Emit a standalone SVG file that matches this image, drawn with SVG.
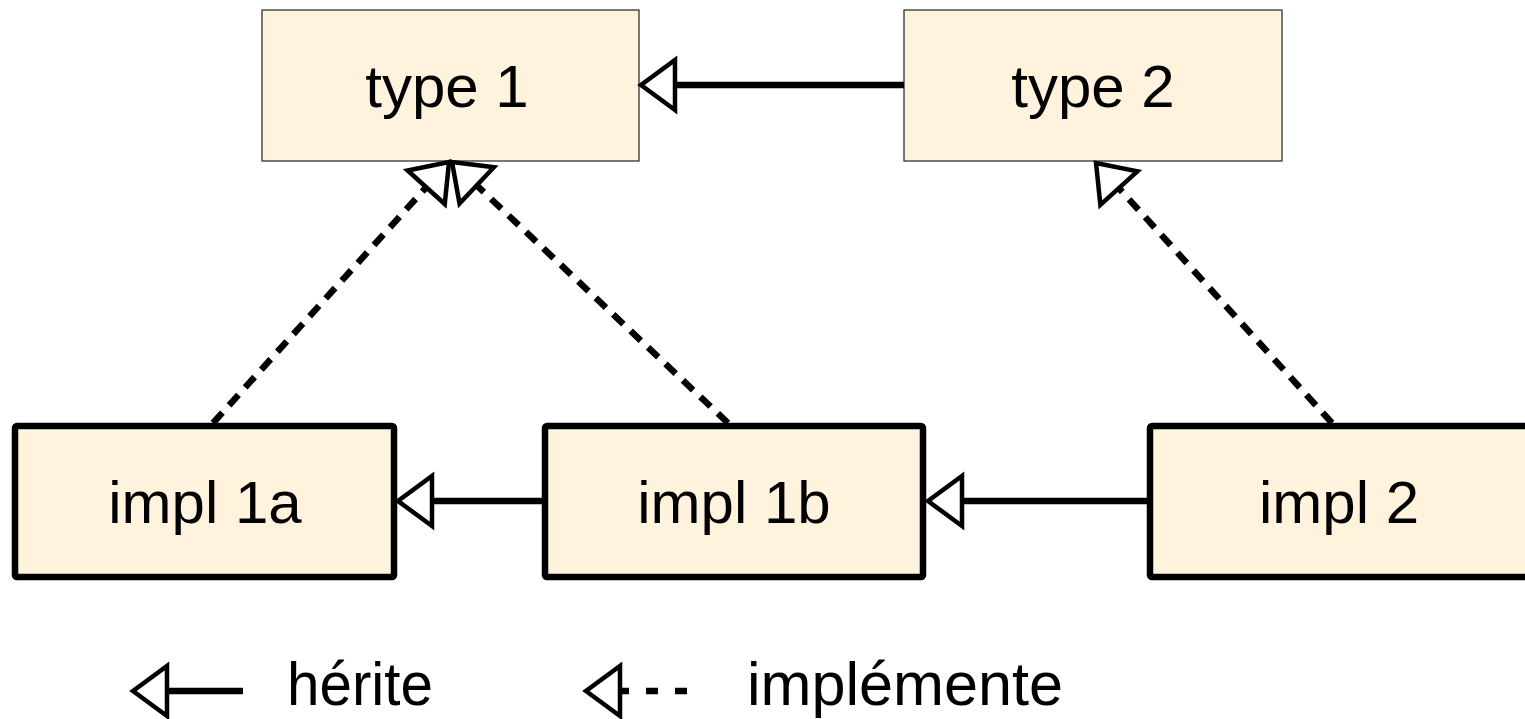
<svg xmlns="http://www.w3.org/2000/svg" width="1525" height="719" viewBox="0 0 1525 719">
<style>
.type{fill:#FFF3DD;stroke:#222;stroke-width:1.2}
.impl{fill:#FFF3DD;stroke:#000;stroke-width:6.5}
.lbl{font-family:"Liberation Sans",Arial,sans-serif;font-size:60px;fill:#000;text-anchor:middle}
.leg{font-family:"Liberation Sans",Arial,sans-serif;font-size:62px;fill:#000}
.solid{stroke:#000;stroke-width:6.5;fill:none;marker-end:url(#tri)}
.dash{stroke:#000;stroke-width:6.5;fill:none;stroke-dasharray:14 10;marker-end:url(#tri)}
</style>
<defs>
<marker id="tri" markerUnits="userSpaceOnUse" markerWidth="60" markerHeight="70" refX="0" refY="0" viewBox="-10 -35 60 70" orient="auto" overflow="visible">
<path d="M-4,-25 L30,0 L-4,25 Z" fill="#fff" stroke="#000" stroke-width="4.5" stroke-linejoin="miter"/>
</marker>
</defs>
<rect width="1525" height="719" fill="#fff"/>
<g id="type1"><rect class="type" x="262" y="10" width="377" height="151"/><text class="lbl" x="447" y="107">type 1</text></g>
<g id="type2"><rect class="type" x="904" y="10" width="378" height="151"/><text class="lbl" x="1093" y="107">type 2</text></g>
<g id="impl1a"><rect class="impl" x="15" y="426" width="379" height="151" rx="2"/><text class="lbl" x="205" y="523">impl 1a</text></g>
<g id="impl1b"><rect class="impl" x="545" y="426" width="378" height="151" rx="2"/><text class="lbl" x="734" y="523">impl 1b</text></g>
<g id="impl2"><rect class="impl" x="1150" y="426" width="379" height="151" rx="2"/><text class="lbl" x="1339" y="523">impl 2</text></g>
<g id="connectors">
<path class="solid" d="M904,85 L671,85"/>
<path class="solid" d="M542,501 L428,501"/>
<path class="solid" d="M1147,501 L958,501"/>
<path class="dash" d="M213,423 L428.9,184.3"/>
<path class="dash" d="M728,423 L473.8,182.6"/>
<path class="dash" d="M1332,423 L1116.2,185.2"/>
</g>
<g id="legend">
<path d="M243,691 L163,691" stroke="#000" stroke-width="6.5" fill="none" marker-end="url(#tri)"/>
<text class="leg" x="287" y="705" textLength="146" lengthAdjust="spacingAndGlyphs">hérite</text>
<path d="M687,691 L616,691" stroke="#000" stroke-width="6.5" fill="none" stroke-dasharray="12 17" marker-end="url(#tri)"/>
<text class="leg" x="747" y="705" textLength="316" lengthAdjust="spacingAndGlyphs">implémente</text>
</g>
</svg>
